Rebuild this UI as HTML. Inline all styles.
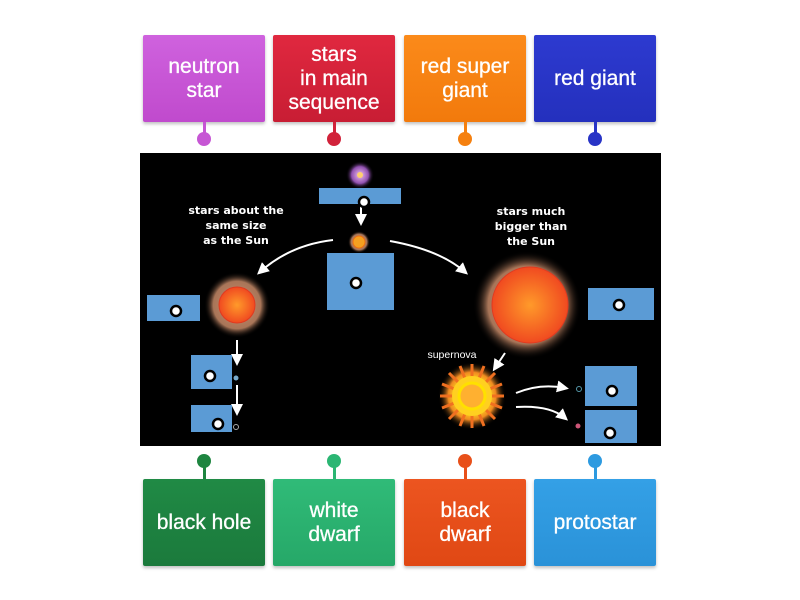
<!DOCTYPE html>
<html><head><meta charset="utf-8"><style>
body{margin:0;width:800px;height:600px;background:#fff;position:relative;overflow:hidden;font-family:"Liberation Sans",sans-serif}
.t{position:absolute;width:122px;height:87px;color:#fff;font-size:21px;line-height:24px;display:flex;align-items:center;justify-content:center;text-align:center;border-radius:2px;box-shadow:0 2px 3px rgba(0,0,0,.25);-webkit-text-stroke:0.3px #fff}
.l{position:absolute;width:3px}
.d{position:absolute;width:14px;height:14px;border-radius:50%}
</style></head><body>
<div class="t" style="left:143px;top:35px;background:linear-gradient(#cf62de,#c04acd)">neutron<br>star</div>
<div class="t" style="left:273px;top:35px;background:linear-gradient(#e0283f,#c81d34)">stars<br>in main<br>sequence</div>
<div class="t" style="left:404px;top:35px;background:linear-gradient(#fb8a1a,#f27a0c)">red super<br>giant</div>
<div class="t" style="left:534px;top:35px;background:linear-gradient(#2d3ad0,#2430bd)">red giant</div>
<div class="l" style="left:203px;top:122px;height:14px;background:#c656d4"></div><div class="d" style="left:197px;top:132px;background:#c656d4"></div>
<div class="l" style="left:333px;top:122px;height:14px;background:#d1223a"></div><div class="d" style="left:327px;top:132px;background:#d1223a"></div>
<div class="l" style="left:464px;top:122px;height:14px;background:#f5800f"></div><div class="d" style="left:458px;top:132px;background:#f5800f"></div>
<div class="l" style="left:594px;top:122px;height:14px;background:#2834c6"></div><div class="d" style="left:588px;top:132px;background:#2834c6"></div>

<div class="t" style="left:143px;top:479px;background:linear-gradient(#208a45,#1b7a3c)">black hole</div>
<div class="t" style="left:273px;top:479px;background:linear-gradient(#30bb78,#26a868)">white<br>dwarf</div>
<div class="t" style="left:404px;top:479px;background:linear-gradient(#ec5520,#e04814)">black<br>dwarf</div>
<div class="t" style="left:534px;top:479px;background:linear-gradient(#34a0e6,#2a92d8)">protostar</div>
<div class="d" style="left:197px;top:454px;background:#1e8540"></div><div class="l" style="left:203px;top:464px;height:15px;background:#1e8540"></div>
<div class="d" style="left:327px;top:454px;background:#2bb673"></div><div class="l" style="left:333px;top:464px;height:15px;background:#2bb673"></div>
<div class="d" style="left:458px;top:454px;background:#e8501a"></div><div class="l" style="left:464px;top:464px;height:15px;background:#e8501a"></div>
<div class="d" style="left:588px;top:454px;background:#2d9ae0"></div><div class="l" style="left:594px;top:464px;height:15px;background:#2d9ae0"></div>

<svg style="position:absolute;left:0;top:0" width="800" height="600">
<defs>
<radialGradient id="g1"><stop offset="0" stop-color="#d09070"/><stop offset="0.72" stop-color="#a87558"/><stop offset="1" stop-color="#000" stop-opacity="0"/></radialGradient>
<radialGradient id="c1"><stop offset="0" stop-color="#ff9a2a"/><stop offset="1" stop-color="#f04a20"/></radialGradient>
<radialGradient id="sn"><stop offset="0" stop-color="#ffb030"/><stop offset="0.45" stop-color="#ffe020"/><stop offset="0.7" stop-color="#f08a20"/><stop offset="1" stop-color="#000" stop-opacity="0"/></radialGradient>
<radialGradient id="neb"><stop offset="0" stop-color="#f0c0f0"/><stop offset="0.6" stop-color="#9050b0"/><stop offset="1" stop-color="#000" stop-opacity="0"/></radialGradient>
<marker id="a" markerWidth="6" markerHeight="6" refX="4" refY="3" orient="auto"><path d="M0,0L6,3L0,6z" fill="#fff"/></marker>
</defs>
<rect x="140" y="153" width="521" height="293" fill="#000"/>
<circle cx="360" cy="175" r="14" fill="url(#neb)"/>
<circle cx="360" cy="175" r="3" fill="#ffd070"/>
<circle cx="359" cy="242" r="11" fill="url(#g1)"/>
<circle cx="359" cy="242" r="6" fill="#f5a020" stroke="#f07010"/>
<circle cx="237" cy="305" r="33" fill="url(#g1)"/>
<circle cx="237" cy="305" r="18" fill="url(#c1)" stroke="#e03a20"/>
<circle cx="527" cy="305" r="54" fill="url(#g1)"/>
<circle cx="530" cy="305" r="38" fill="url(#c1)" stroke="#e03a20"/>
<circle cx="472" cy="396" r="34" fill="url(#sn)"/>
<g stroke="#f07020" stroke-width="3" transform="translate(472,396)">
<path d="M0,-32V32M-32,0H32M-23,-23L23,23M-23,23L23,-23M-12,-30L12,30M-30,-12L30,12M12,-30L-12,30M30,-12L-30,12"/>
</g>
<circle cx="472" cy="396" r="20" fill="#ffd020"/>
<circle cx="472" cy="396" r="13" fill="#ffb030" stroke="#ffe000" stroke-width="3"/>
<g fill="none" stroke="#fff" stroke-width="2">
<path d="M333,240 Q290,245 260,272" marker-end="url(#a)"/>
<path d="M390,241 Q440,250 465,272" marker-end="url(#a)"/>
<path d="M361,206 V222" marker-end="url(#a)"/>
<path d="M237,340 V362" marker-end="url(#a)"/>
<path d="M237,385 V412" marker-end="url(#a)"/>
<path d="M505,353 L495,368" marker-end="url(#a)"/>
<path d="M516,393 Q540,383 565,388" marker-end="url(#a)"/>
<path d="M516,407 Q550,405 565,418" marker-end="url(#a)"/>
</g>
<circle cx="236" cy="378" r="2.5" fill="#7ac"/>
<circle cx="236" cy="427" r="2.5" fill="none" stroke="#aaa"/>
<circle cx="579" cy="389" r="2.5" fill="none" stroke="#59a"/>
<circle cx="578" cy="426" r="2.5" fill="#c57"/>
<g fill="#5b9bd5">
<rect x="319" y="188" width="82" height="16"/>
<rect x="327" y="253" width="67" height="57"/>
<rect x="147" y="295" width="53" height="26"/>
<rect x="191" y="355" width="41" height="34"/>
<rect x="191" y="405" width="41" height="27"/>
<rect x="588" y="288" width="66" height="32"/>
<rect x="585" y="366" width="52" height="40"/>
<rect x="585" y="410" width="52" height="33"/>
</g>
<g fill="#fff" stroke="#000" stroke-width="2.5">
<circle cx="364" cy="202" r="5"/><circle cx="356" cy="283" r="5"/><circle cx="176" cy="311" r="5"/>
<circle cx="210" cy="376" r="5"/><circle cx="218" cy="424" r="5"/><circle cx="619" cy="305" r="5"/>
<circle cx="612" cy="391" r="5"/><circle cx="610" cy="433" r="5"/>
</g>
<g fill="#fff" font-size="11" font-weight="bold" text-anchor="middle" font-family="DejaVu Sans,sans-serif">
<text x="236" y="214">stars about the</text><text x="236" y="229">same size</text><text x="236" y="244">as the Sun</text>
<text x="531" y="215">stars much</text><text x="531" y="230">bigger than</text><text x="531" y="245">the Sun</text>
</g>
<text x="452" y="358" fill="#fff" font-size="10.5" text-anchor="middle" font-family="Liberation Sans,sans-serif">supernova</text>
</svg>
</body></html>
